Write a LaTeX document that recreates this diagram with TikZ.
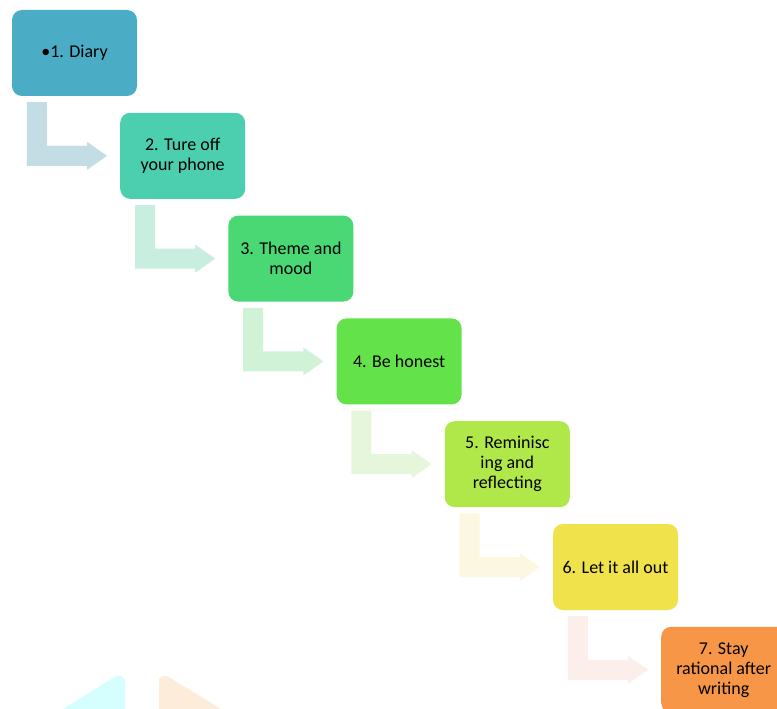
\documentclass[tikz,border=0pt]{standalone}
\usepackage{fontspec}
\setmainfont{Carlito}
\usetikzlibrary{calc}
\definecolor{c1}{RGB}{75,172,198}
\definecolor{c2}{RGB}{75,207,175}
\definecolor{c3}{RGB}{74,216,117}
\definecolor{c4}{RGB}{99,226,74}
\definecolor{c5}{RGB}{176,232,74}
\definecolor{c6}{RGB}{240,226,74}
\definecolor{c7}{RGB}{247,150,70}
\definecolor{a1}{RGB}{196,221,229}
\definecolor{a2}{RGB}{200,238,224}
\definecolor{a3}{RGB}{208,242,214}
\definecolor{a4}{RGB}{230,246,218}
\definecolor{a5}{RGB}{252,247,225}
\definecolor{a6}{RGB}{252,238,234}
\definecolor{tri1}{RGB}{213,255,255}
\definecolor{tri2}{RGB}{253,236,218}
\newcommand\bentarrow[3]{%
  \fill[#3] ($(#1.south west)+(15,6)$) -- ($(#1.south west)+(35,6)$)
    |- ($(#2.west)+(-33,-10)$) -- ($(#2.west)+(-33,-14)$)
    -- ($(#2.west)+(-13,0)$) -- ($(#2.west)+(-33,14)$)
    -- ($(#2.west)+(-33,10)$) -| ($(#1.south west)+(15,6)$) -- cycle;}
\begin{document}
\begin{tikzpicture}[x=1pt,y=-1pt,
  stepbox/.style={rounded corners=10pt, minimum width=125pt, minimum height=86pt,
    inner sep=2pt, align=center, text=black,
    font=\fontsize{18}{20}\selectfont}]
\useasboundingbox (0,0) rectangle (777,709);
\fill[white] (0,0) rectangle (777,709);
% faint shapes at the bottom
\fill[tri1] (63,709) -- (116,676) -- (122,676) -- (125,680) -- (125,709) -- cycle;
\fill[tri2] (159,709) -- (159,679) -- (162,676) -- (167,676) -- (221,709) -- cycle;
% boxes
\node[stepbox, fill=c1] (b1) at (74.5,53) {•1. Diary};
\node[stepbox, fill=c2] (b2) at (182.7,155.8) {2. Ture off\\your phone};
\node[stepbox, fill=c3] (b3) at (290.9,258.6) {3. Theme and\\mood};
\node[stepbox, fill=c4] (b4) at (399.1,361.4) {4. Be honest};
\node[stepbox, fill=c5] (b5) at (507.3,464.2) {5. Reminisc\\ing and\\reflecting};
\node[stepbox, fill=c6] (b6) at (615.5,567) {6. Let it all out};
\node[stepbox, fill=c7] (b7) at (723.7,669.8) {7. Stay\\rational after\\writing};
% arrows
\bentarrow{b1}{b2}{a1}
\bentarrow{b2}{b3}{a2}
\bentarrow{b3}{b4}{a3}
\bentarrow{b4}{b5}{a4}
\bentarrow{b5}{b6}{a5}
\bentarrow{b6}{b7}{a6}
\end{tikzpicture}
\end{document}
